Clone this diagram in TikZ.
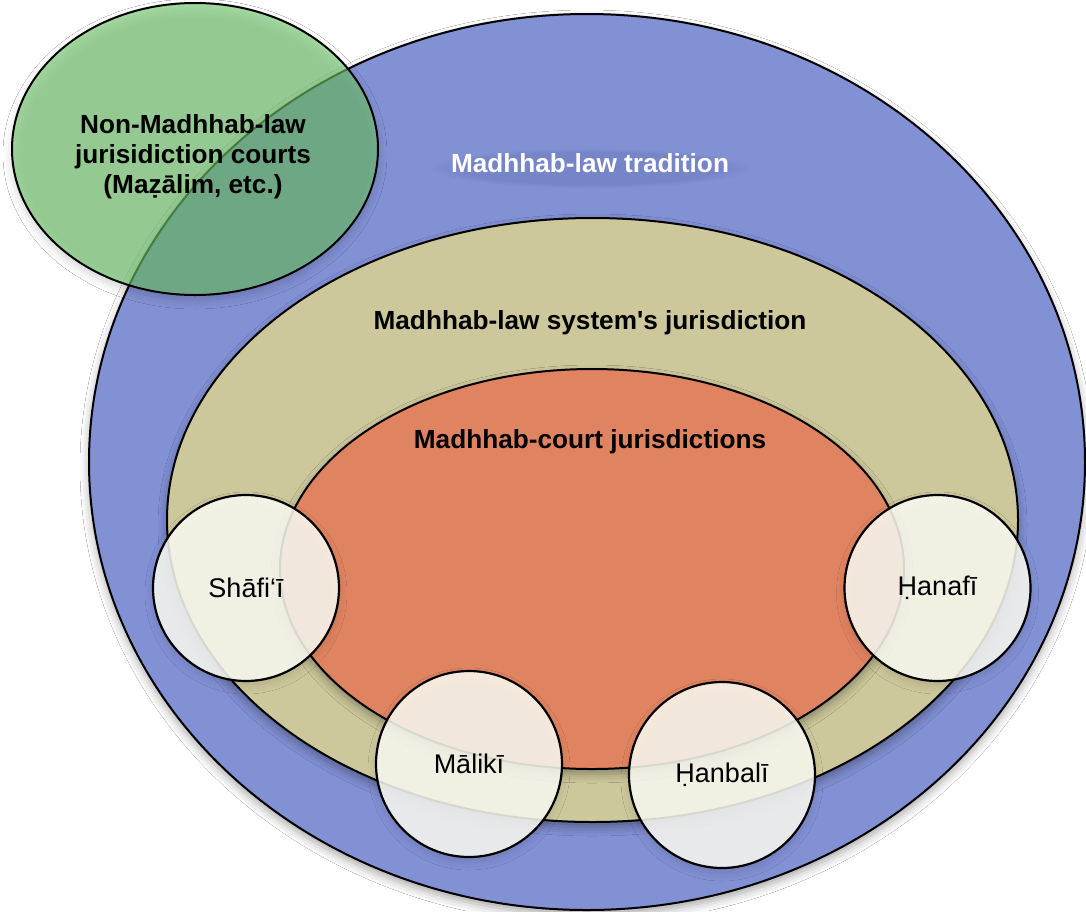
\documentclass[tikz,border=0pt]{standalone}
\usepackage{fontspec}
\setmainfont{Liberation Sans}
\usetikzlibrary{shapes.geometric,shadows.blur,fadings}

\definecolor{traditionblue}{RGB}{130,144,212}
\definecolor{systemtan}{RGB}{205,200,155}
\definecolor{courtorange}{RGB}{223,131,96}
\definecolor{mazalimgreen}{RGB}{112,198,108}
\definecolor{schoolfill}{RGB}{251,251,243}
\definecolor{haloblue}{RGB}{50,60,130}

\begin{document}
\begin{tikzpicture}[x=1pt,y=-1pt,
  region/.style={ellipse, draw=black, line width=2pt, inner sep=0pt,
    blur shadow={shadow xshift=0pt, shadow yshift=-5pt,
      shadow blur radius=9pt, shadow opacity=35}},
  school/.style={circle, draw=black, line width=2.2pt, fill=schoolfill,
    fill opacity=0.86, text opacity=1, minimum size=186pt, inner sep=0pt,
    font=\fontsize{27}{30}\selectfont,
    blur shadow={shadow xshift=0pt, shadow yshift=-5pt,
      shadow blur radius=8pt, shadow opacity=15}},
  heading/.style={font=\bfseries\fontsize{26.2}{30}\selectfont, align=center}]

\useasboundingbox (0,0) rectangle (1086,911);
\clip (0,0) rectangle (1086,911);
\fill[white] (0,0) rectangle (1086,911);

% nested jurisdictions
\node[region, fill=traditionblue, minimum width=996pt, minimum height=896pt]
  (tradition) at (587,462) {};
\node[region, fill=mazalimgreen, fill opacity=0.62,
  blur shadow={shadow xshift=0pt, shadow yshift=-5pt,
    shadow blur radius=9pt, shadow opacity=15},
  minimum width=366pt, minimum height=292pt] (mazalim) at (195,149) {};
\node[region, fill=systemtan, minimum width=851pt, minimum height=604pt]
  (system) at (592.5,520) {};
\node[region, fill=courtorange, minimum width=624pt, minimum height=400pt]
  (courts) at (592,569) {};

% the four schools
\node[school] (shafii) at (246,588) {Shāfi‘ī};
\node[school] (hanafi) at (937.5,588) {Ḥanafī};
\node[school] (maliki) at (469,764) {Mālikī};
\node[school] (hanbali) at (722,775) {Ḥanbalī};

% soft dark glow behind the white heading
\fill[haloblue, fill opacity=0.14, path fading=circle with fuzzy edge 20 percent]
  (590,168) ellipse [x radius=160pt, y radius=20pt];

% headings
\node[heading, text=white] (traditionlabel) at (590,163) {Madhhab-law tradition};
\node[heading] (systemlabel) at (590,323)
  {Madhhab-law system\textquotesingle s jurisdiction};
\node[heading] (courtslabel) at (590,442) {Madhhab-court jurisdictions};
\node[heading] (mazalimlabel) at (193,157)
  {Non-Madhhab-law\\jurisidiction courts\\(Maẓālim, etc.)};

\end{tikzpicture}
\end{document}
